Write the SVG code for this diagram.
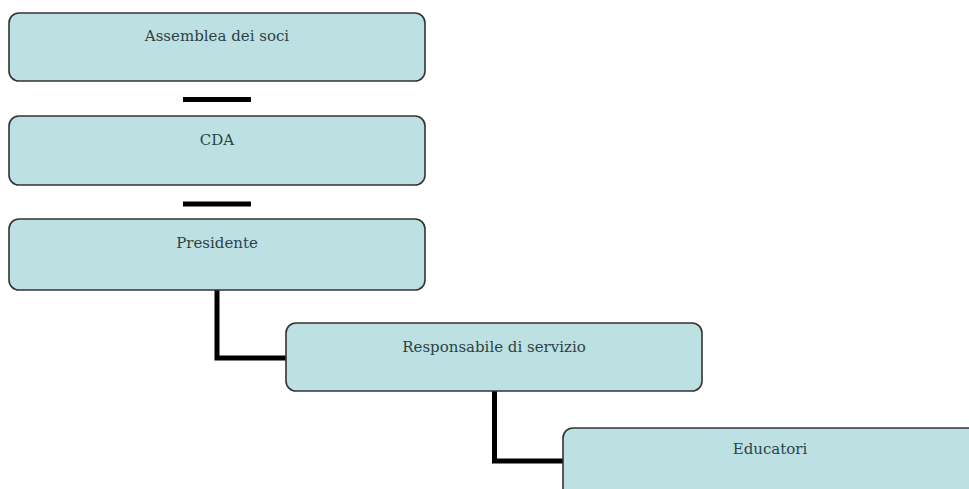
<svg xmlns="http://www.w3.org/2000/svg" width="969" height="489" viewBox="0 0 969 489">
<style>
.box{fill:#bde0e3;stroke:#333;stroke-width:1.6}
.lbl{font-family:"DejaVu Serif","Liberation Serif",serif;font-size:15px;fill:#2d4245;text-anchor:middle}
.conn{stroke:#000;stroke-width:5;fill:none}
</style>
<rect width="969" height="489" fill="#fff"/>
<g id="connectors">
<line class="conn" x1="183" y1="99.5" x2="251" y2="99.5"/>
<line class="conn" x1="183" y1="204" x2="251" y2="204"/>
<polyline class="conn" points="217,290 217,358 286,358"/>
<polyline class="conn" points="494.5,391 494.5,461 563,461"/>
</g>
<g id="n1"><rect class="box" x="9" y="13" width="416" height="68" rx="10"/><text class="lbl" x="217" y="41">Assemblea dei soci</text></g>
<g id="n2"><rect class="box" x="9" y="116" width="416" height="69" rx="10"/><text class="lbl" x="217" y="145">CDA</text></g>
<g id="n3"><rect class="box" x="9" y="219" width="416" height="71" rx="10"/><text class="lbl" x="217" y="248">Presidente</text></g>
<g id="n4"><rect class="box" x="286" y="323" width="416" height="68" rx="10"/><text class="lbl" x="494" y="352">Responsabile di servizio</text></g>
<g id="n5"><rect class="box" x="563" y="428" width="420" height="80" rx="10"/><text class="lbl" x="770" y="454">Educatori</text></g>
</svg>
